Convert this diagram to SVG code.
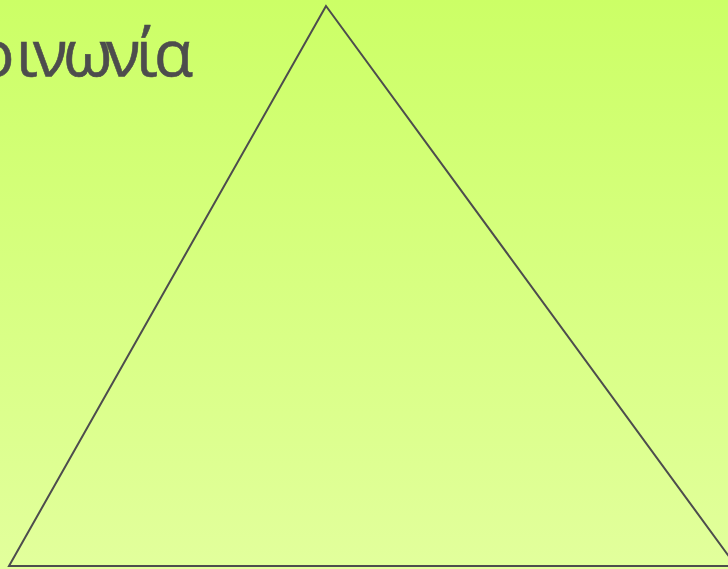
<svg xmlns="http://www.w3.org/2000/svg" width="728" height="569" viewBox="0 0 728 569">
<defs>
<linearGradient id="bg" x1="0" y1="0" x2="0" y2="1">
<stop offset="0" stop-color="#ccff66"/>
<stop offset="1" stop-color="#e2ff9c"/>
</linearGradient>
<style>
.t{font-family:"Open Sans","Noto Sans",sans-serif;font-size:64px;font-weight:500;fill:#4d4d4d;stroke:#4d4d4d;stroke-width:0.6}
.s{fill:none;stroke:#4d4d4d;stroke-width:2}
</style>
</defs>
<rect width="728" height="569" fill="url(#bg)"/>
<g id="triangle"><polygon class="s" points="326,6 9,566 736,566"/></g>
<g id="label"><text class="t" x="-63 -24 16 33 63 106 136 154" y="76">Κοινωνία</text></g>
</svg>
